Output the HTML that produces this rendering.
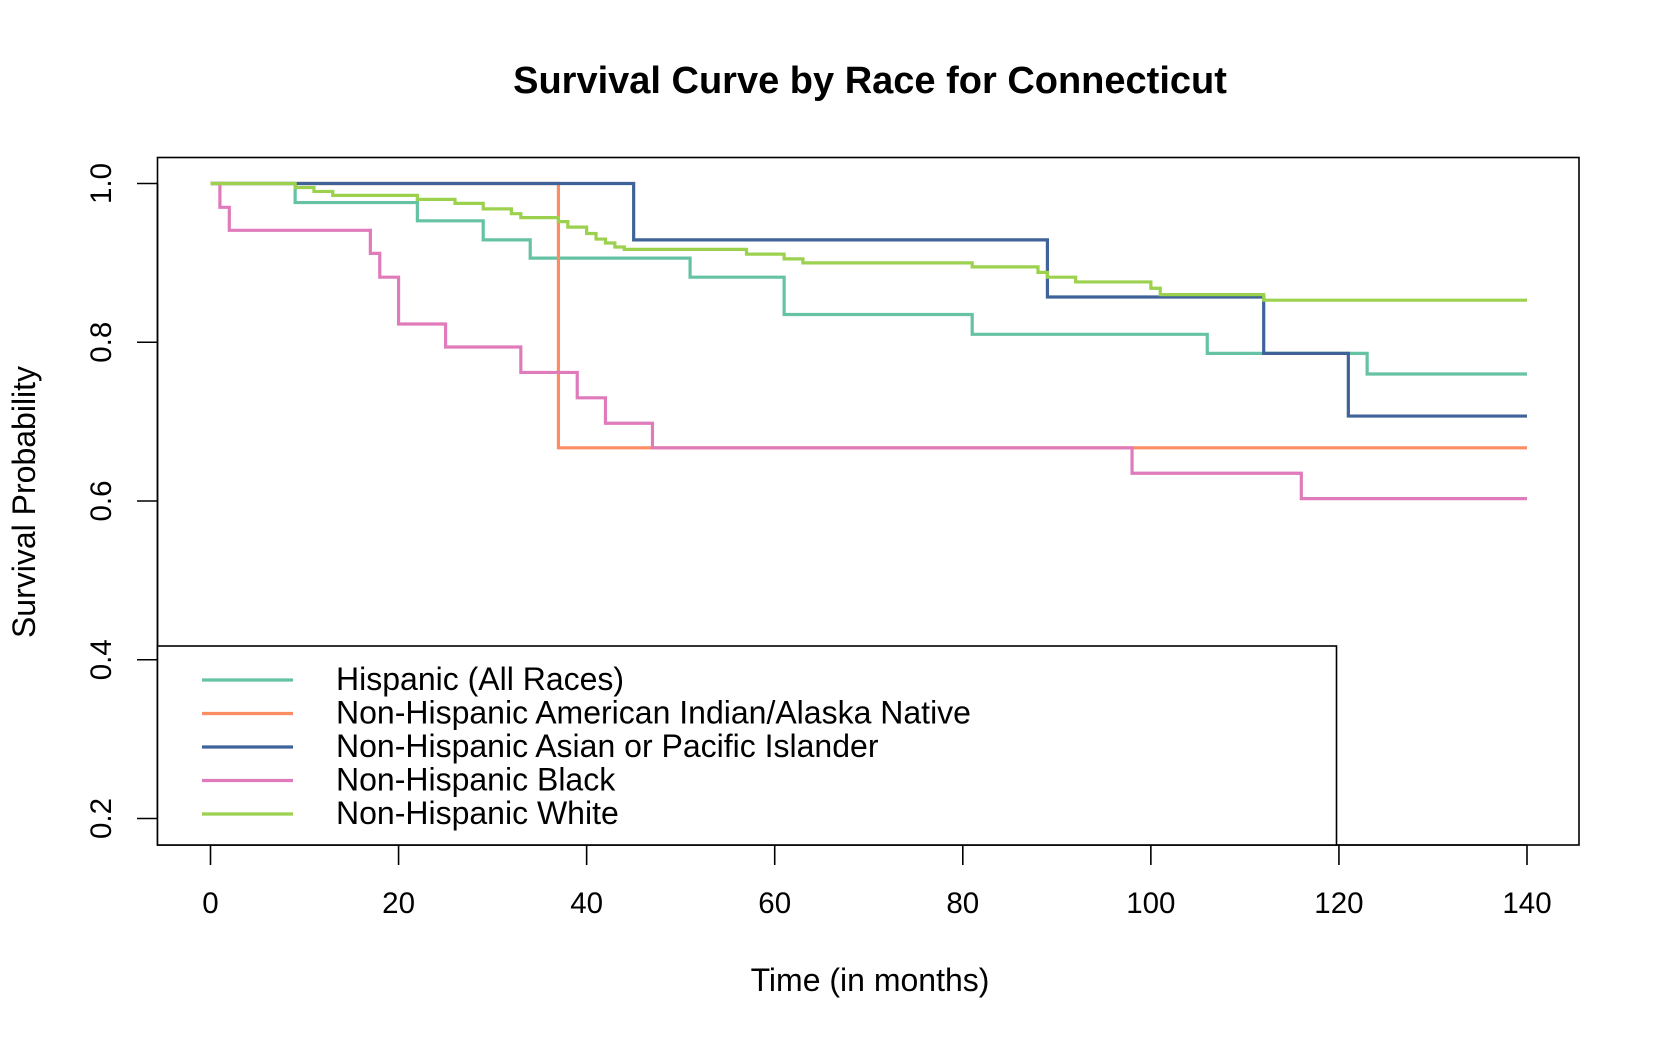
<!DOCTYPE html>
<html><head><meta charset="utf-8"><style>
html,body{margin:0;padding:0;background:#fff;}
svg{display:block;font-family:"Liberation Sans",Arial,sans-serif;}
</style></head><body>
<svg id="chart" width="1660" height="1040" viewBox="0 0 1660 1040" xmlns="http://www.w3.org/2000/svg">
<rect width="1660" height="1040" fill="#fff"/>
<text x="870" y="93" text-anchor="middle" font-size="38" font-weight="bold">Survival Curve by Race for Connecticut</text>
<text x="870" y="991" text-anchor="middle" font-size="32">Time (in months)</text>
<text transform="translate(35,502) rotate(-90)" text-anchor="middle" font-size="32">Survival Probability</text>
<g id="series"></g>
<g id="axes"></g>
<g id="legend"></g>
</svg>
<script>
const xTicks = [0,20,40,60,80,100,120,140];
const yTicks = [0.2,0.4,0.6,0.8,1.0];
const yTickLabels = ["0.2","0.4","0.6","0.8","1.0"];
const seriesNames = ["Hispanic (All Races)","Non-Hispanic American Indian/Alaska Native","Non-Hispanic Asian or Pacific Islander","Non-Hispanic Black","Non-Hispanic White"];
const seriesColors = ["#66c2a5","#fc8d62","#3f6399","#e07bbb","#9bd14d"];
const hispTimes = [0,9,22,29,34,51,61,81,106,123,140];
const hispVals  = [1,0.976,0.953,0.929,0.906,0.882,0.835,0.81,0.786,0.76,0.76];
const aianTimes = [0,37,140];
const aianVals  = [1,0.667,0.667];
const asianTimes = [0,45,89,112,121,140];
const asianVals  = [1,0.929,0.857,0.786,0.707,0.707];
const blackTimes = [0,1,2,17,18,20,25,33,39,42,47,98,116,140];
const blackVals  = [1,0.97,0.941,0.912,0.882,0.823,0.794,0.762,0.73,0.698,0.667,0.635,0.603,0.603];
const whiteTimes = [0,9,11,13,22,26,29,32,33,37,38,40,41,42,43,44,57,61,63,81,88,89,92,100,101,112,140];
const whiteVals  = [1,0.995,0.99,0.985,0.98,0.975,0.968,0.962,0.957,0.952,0.945,0.937,0.93,0.925,0.92,0.917,0.911,0.905,0.9,0.895,0.888,0.882,0.876,0.868,0.86,0.853,0.853];

const NS="http://www.w3.org/2000/svg";
const X0=210.5, X1=1527, Y1=183.5, Y02=818.5;
const BOX_L=157.5, BOX_T=157.5, BOX_R=1579, BOX_B=845;
function sx(t){return X0+(t/140)*(X1-X0);}
function sy(v){return Y1+(1-v)*(Y02-Y1)/0.8;}
function mk(tag,attrs,parent){const e=document.createElementNS(NS,tag);for(const k in attrs)e.setAttribute(k,attrs[k]);parent.appendChild(e);return e;}

const series=document.getElementById('series');
const allT=[hispTimes,aianTimes,asianTimes,blackTimes,whiteTimes];
const allV=[hispVals,aianVals,asianVals,blackVals,whiteVals];
const keys=["hispanic","aian","asian","black","white"];
for(let s=0;s<5;s++){
  const T=allT[s],V=allV[s];
  let d="M"+sx(T[0])+","+sy(V[0]);
  for(let i=1;i<T.length;i++){d+=" H"+sx(T[i])+" V"+sy(V[i]);}
  const p=mk('path',{d:d,fill:'none',stroke:seriesColors[s],'stroke-width':3.2},series);
  
  
}

const axes=document.getElementById('axes');
const box=mk('rect',{x:BOX_L,y:BOX_T,width:BOX_R-BOX_L,height:BOX_B-BOX_T,fill:'none',stroke:'#000','stroke-width':1.6},axes);


const xl=mk('line',{x1:sx(0),x2:sx(140),y1:BOX_B,y2:BOX_B,stroke:'#000','stroke-width':1.6},axes);


xTicks.forEach(t=>{
  const l=mk('line',{x1:sx(t),x2:sx(t),y1:BOX_B,y2:BOX_B+20,stroke:'#000','stroke-width':1.6},axes);
  
  
  const tx=mk('text',{x:sx(t),y:913,'text-anchor':'middle','font-size':29.5},axes);
  tx.textContent=String(t);
  
  
});
const yl=mk('line',{x1:BOX_L,x2:BOX_L,y1:sy(1),y2:sy(0.2),stroke:'#000','stroke-width':1.6},axes);


yTicks.forEach((v,i)=>{
  const l=mk('line',{x1:137,x2:BOX_L,y1:sy(v),y2:sy(v),stroke:'#000','stroke-width':1.6},axes);
  
  
  const tx=mk('text',{transform:'translate(111,'+sy(v)+') rotate(-90)','text-anchor':'middle','font-size':29.5},axes);
  tx.textContent=yTickLabels[i];
  
  
});

const leg=document.getElementById('legend');
const lb=mk('rect',{x:BOX_L,y:646,width:1179,height:BOX_B-646,fill:'#fff',stroke:'#000','stroke-width':1.6},leg);


seriesNames.forEach((n,i)=>{
  const y=680+i*33.5;
  const l=mk('line',{x1:202,x2:293,y1:y,y2:y,stroke:seriesColors[i],'stroke-width':3.2},leg);
  
  
  const t=mk('text',{x:336,y:y+10,'font-size':32},leg);
  t.textContent=n;
  
  
});
</script>
</body></html>
